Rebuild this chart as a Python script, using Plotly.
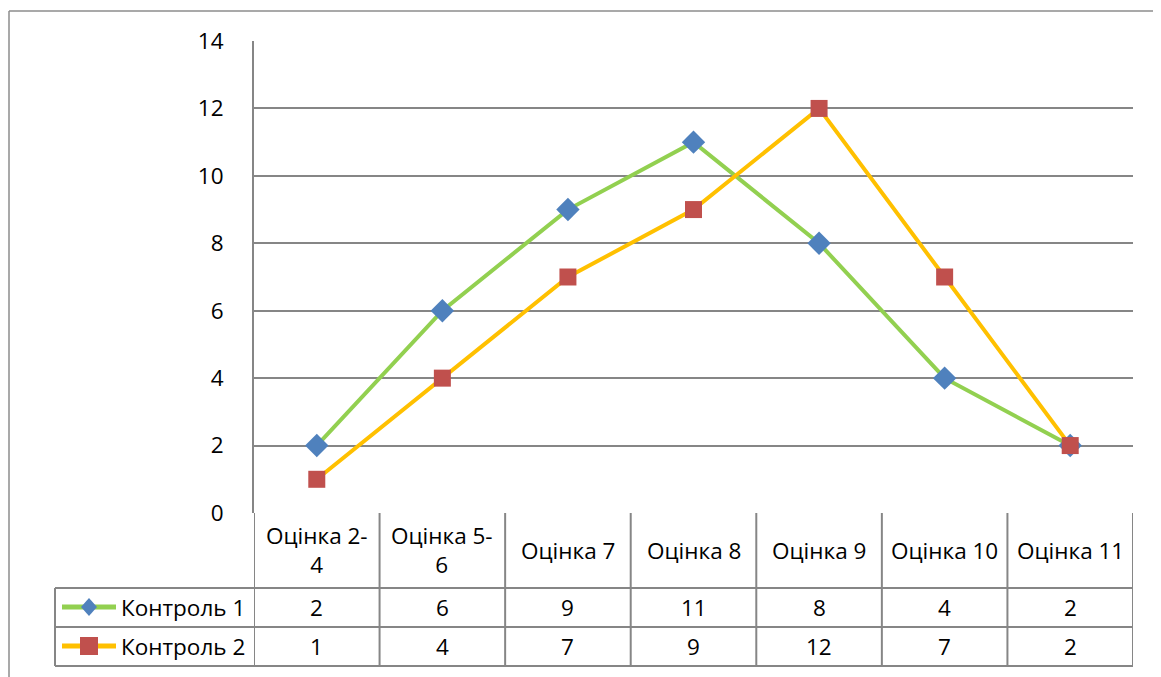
import plotly.graph_objects as go

categories = ["Оцінка 2-<br>4", "Оцінка 5-<br>6", "Оцінка 7", "Оцінка 8", "Оцінка 9", "Оцінка 10", "Оцінка 11"]
series_names = ["Контроль 1", "Контроль 2"]
control1 = [2, 6, 9, 11, 8, 4, 2]
control2 = [1, 4, 7, 9, 12, 7, 2]
y_ticks = [0, 2, 4, 6, 8, 10, 12, 14]

OFF = 8  # page body margin
W, H = 1161 - OFF, 677 - OFF
# plot area in screen pixels
L, R, T, B = 254, 1133, 41, 513
PW, PH = R - L, B - T

def px(x):
    return (x - L) / PW

def py(y):
    return (B - y) / PH

FONT = "Open Sans, sans-serif"
FS = 22.5
GRID = "#868686"
xs = list(range(len(categories)))

fig = go.Figure()
fig.add_trace(go.Scatter(
    x=xs, y=control1, name=series_names[0], mode="lines+markers",
    line=dict(color="#92D050", width=4),
    marker=dict(symbol="diamond", size=18, color="#4F81BD"),
    cliponaxis=False))
fig.add_trace(go.Scatter(
    x=xs, y=control2, name=series_names[1], mode="lines+markers",
    line=dict(color="#FFC000", width=4),
    marker=dict(symbol="square", size=17, color="#C0504D"),
    cliponaxis=False))

shapes = []
ann = []
ln = dict(color=GRID, width=2)
for yy in (588, 627, 666):
    shapes.append(dict(type="line", xref="paper", yref="paper", x0=px(55), x1=1, y0=py(yy), y1=py(yy), line=ln))
for k in range(len(categories) + 1):
    shapes.append(dict(type="line", xref="x", yref="paper", x0=k - 0.5, x1=k - 0.5, y0=0, y1=py(666), line=ln))
shapes.append(dict(type="line", xref="paper", yref="paper", x0=px(55), x1=px(55), y0=py(588), y1=py(666), line=ln))
bl = dict(color="#8c8c8c", width=1.5)
shapes.append(dict(type="line", xref="paper", yref="paper", x0=px(9), x1=px(1160), y0=py(11), y1=py(11), line=bl))
shapes.append(dict(type="line", xref="paper", yref="paper", x0=px(9), x1=px(9), y0=py(11), y1=py(690), line=bl))
shapes.append(dict(type="line", xref="paper", yref="paper", x0=px(1160), x1=px(1160), y0=py(11), y1=py(690), line=bl))

key_specs = [("#92D050", "#4F81BD", "diamond", 607), ("#FFC000", "#C0504D", "square", 646)]
for (lc, mc, sym, yc), name in zip(key_specs, series_names):
    shapes.append(dict(type="line", xref="paper", yref="paper", x0=px(62), x1=px(116), y0=py(yc), y1=py(yc),
                       line=dict(color=lc, width=5)))
    if sym == "diamond":
        shapes.append(dict(type="path", xref="paper", yref="paper", xsizemode="pixel", ysizemode="pixel",
                           xanchor=px(89), yanchor=py(yc), path="M 0 9 L 8 0 L 0 -9 L -8 0 Z",
                           fillcolor=mc, line=dict(width=0)))
    else:
        shapes.append(dict(type="rect", xref="paper", yref="paper", xsizemode="pixel", ysizemode="pixel",
                           xanchor=px(89), yanchor=py(yc), x0=-9, x1=9, y0=-9, y1=9,
                           fillcolor=mc, line=dict(width=0)))
    ann.append(dict(text=name, xref="paper", yref="paper", x=px(119), y=py(yc), xanchor="left", yanchor="middle",
                    showarrow=False, font=dict(size=FS, color="black", family=FONT)))

for i, c in enumerate(categories):
    ann.append(dict(text=c, xref="x", yref="paper", x=i, y=py(550), xanchor="center", yanchor="middle",
                    showarrow=False, font=dict(size=FS, color="black", family=FONT)))
    for vals, yc in ((control1, 607), (control2, 646)):
        ann.append(dict(text=str(vals[i]), xref="x", yref="paper", x=i, y=py(yc), xanchor="center", yanchor="middle",
                        showarrow=False, font=dict(size=FS, color="black", family=FONT)))

fig.update_layout(
    width=W, height=H,
    margin=dict(l=L - OFF, r=W - (R - OFF), t=T - OFF, b=H - (B - OFF)),
    paper_bgcolor="white", plot_bgcolor="white",
    showlegend=False,
    shapes=shapes, annotations=ann,
    font=dict(family=FONT, size=FS, color="black"),
)
fig.update_xaxes(range=[-0.5, len(categories) - 0.5], showticklabels=False, showgrid=False,
                 zeroline=False, showline=False, ticks="")
fig.update_yaxes(range=[0, 14], tickvals=y_ticks, showgrid=True, gridcolor=GRID, gridwidth=1.5,
                 zeroline=False, showline=True, linecolor=GRID, linewidth=2, ticks="",
                 ticklabelstandoff=24, tickfont=dict(size=FS, family=FONT, color="black"))

fig.write_html("out.html")
